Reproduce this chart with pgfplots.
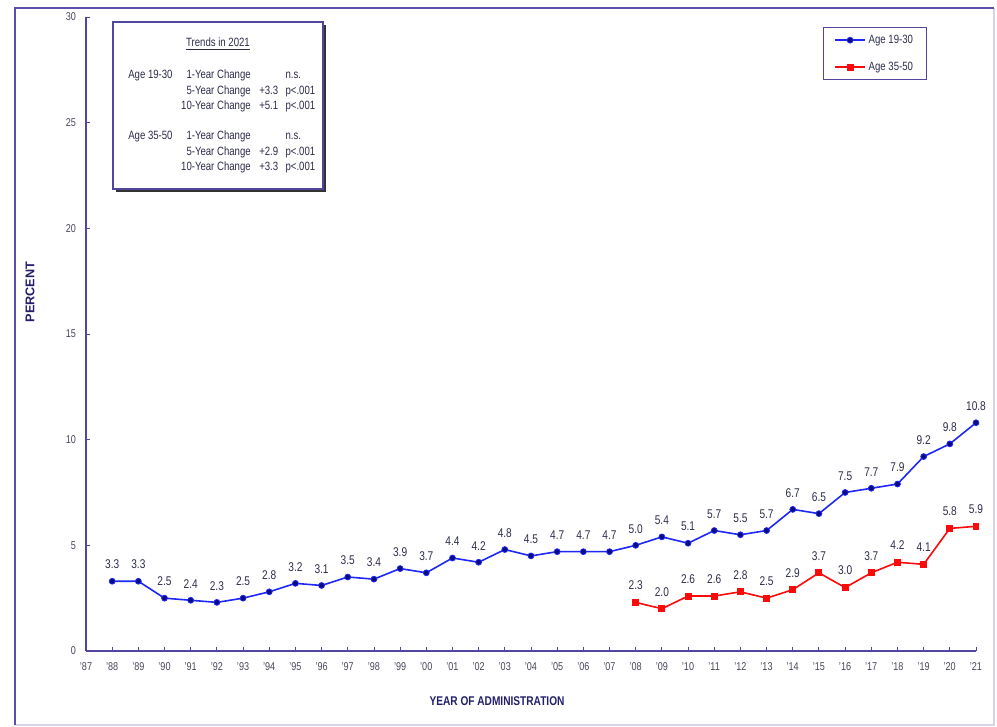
\documentclass[border=0pt]{standalone}
\usepackage{fontspec}
\setmainfont{Liberation Sans}[FakeStretch=0.8]
\newfontfamily\plainsans{Liberation Sans}
\usepackage{pgfplots}
\pgfplotsset{compat=1.18}

\definecolor{axiscol}{RGB}{80,70,160}
\definecolor{framecol}{RGB}{90,80,170}
\definecolor{bluel}{RGB}{30,40,245}
\definecolor{bluem}{RGB}{10,10,130}
\definecolor{redl}{RGB}{250,10,10}
\definecolor{labcol}{RGB}{45,45,75}
\definecolor{tickcol}{RGB}{70,70,90}
\definecolor{titlecol}{RGB}{35,30,110}

\pgfplotstableread{
year val
1988 3.3
1989 3.3
1990 2.5
1991 2.4
1992 2.3
1993 2.5
1994 2.8
1995 3.2
1996 3.1
1997 3.5
1998 3.4
1999 3.9
2000 3.7
2001 4.4
2002 4.2
2003 4.8
2004 4.5
2005 4.7
2006 4.7
2007 4.7
2008 5.0
2009 5.4
2010 5.1
2011 5.7
2012 5.5
2013 5.7
2014 6.7
2015 6.5
2016 7.5
2017 7.7
2018 7.9
2019 9.2
2020 9.8
2021 10.8
}\younger

\pgfplotstableread{
year val
2008 2.3
2009 2.0
2010 2.6
2011 2.6
2012 2.8
2013 2.5
2014 2.9
2015 3.7
2016 3.0
2017 3.7
2018 4.2
2019 4.1
2020 5.8
2021 5.9
}\older

\begin{document}
\begin{tikzpicture}
\useasboundingbox (0,0) rectangle (747.75pt,545.25pt);
% outer frame
\draw[framecol!25, line width=0.8pt] (745.5pt,539.25pt) -- (745.5pt,1.5pt) -- (11.25pt,1.5pt);
\draw[framecol, line width=1.5pt] (11.25pt,1.5pt) -- (11.25pt,539.25pt) -- (745.5pt,539.25pt);

\begin{axis}[
  at={(64.5pt,57pt)}, anchor=south west,
  scale only axis, width=667.5pt, height=475.5pt,
  xmin=1987, xmax=2021, ymin=0, ymax=30,
  axis lines*=left,
  axis line style={axiscol, line width=1pt},
  xtick={1987,...,2021},
  xticklabels={\mbox{'87},\mbox{'88},\mbox{'89},\mbox{'90},\mbox{'91},\mbox{'92},\mbox{'93},\mbox{'94},\mbox{'95},\mbox{'96},\mbox{'97},\mbox{'98},\mbox{'99},\mbox{'00},\mbox{'01},\mbox{'02},\mbox{'03},\mbox{'04},\mbox{'05},\mbox{'06},\mbox{'07},\mbox{'08},\mbox{'09},\mbox{'10},\mbox{'11},\mbox{'12},\mbox{'13},\mbox{'14},\mbox{'15},\mbox{'16},\mbox{'17},\mbox{'18},\mbox{'19},\mbox{'20},\mbox{'21}},
  ytick={0,5,...,30},
  tick align=inside, major tick length=3pt,
  tick style={axiscol, line width=0.6pt},
  ticklabel style={font=\fontsize{8.5}{9}\selectfont, text=tickcol},
  xticklabel style={yshift=-5.5pt},
  yticklabel style={xshift=-4pt},
  /pgf/number format/assume math mode=true,
  clip=false,
  nodes near coords,
  every node near coord/.append style={font=\fontsize{9.5}{10}\selectfont, text=labcol, yshift=5.5pt,
    /pgf/number format/fixed, /pgf/number format/fixed zerofill, /pgf/number format/precision=1},
  legend style={at={(0.828,0.984)}, anchor=north west, draw=axiscol, line width=0.8pt,
    font=\fontsize{9}{10}\selectfont, text=labcol, inner xsep=8pt, inner ysep=3.5pt, row sep=8.5pt,
    cells={anchor=west}},
  legend image code/.code={\draw[line width=1.2pt, mark repeat=2, mark phase=2] plot coordinates {(0cm,0cm) (0.4cm,0cm) (0.8cm,0cm)};},
]
\addplot[bluel, line width=1.2pt, mark=*, mark size=2.2pt,
  mark options={fill=bluem, draw=bluel, line width=0.6pt}] table[x=year, y=val] {\younger};
\addlegendentry{Age 19-30}
\addplot[redl, line width=1.2pt, mark=square*, mark size=2pt,
  mark options={fill=redl, draw=redl}] table[x=year, y=val] {\older};
\addlegendentry{Age 35-50}
\end{axis}

% trends box
\fill[black!80] (86.75pt,401.25pt) rectangle (244.25pt,526.75pt);
\draw[axiscol, fill=white, line width=0.8pt] (84.75pt,403.5pt) rectangle (242.25pt,528.75pt);
\begin{scope}[every node/.style={font=\fontsize{9}{10}\selectfont, text=labcol, inner sep=0pt}]
\node at (163.5pt,512.25pt) {\underline{Trends in 2021}};
\node[anchor=base west] at (96pt,486.25pt) {Age 19-30};
\node[anchor=base east] at (188.25pt,486.25pt) {1-Year Change};
\node[anchor=base west] at (214pt,486.25pt) {n.s.};
\node[anchor=base east] at (188.25pt,474.25pt) {5-Year Change};
\node[anchor=base west] at (194.25pt,474.25pt) {+3.3};
\node[anchor=base west] at (214pt,474.25pt) {p<.001};
\node[anchor=base east] at (188.25pt,463pt) {10-Year Change};
\node[anchor=base west] at (194.25pt,463pt) {+5.1};
\node[anchor=base west] at (214pt,463pt) {p<.001};
\node[anchor=base west] at (96pt,440.5pt) {Age 35-50};
\node[anchor=base east] at (188.25pt,440.5pt) {1-Year Change};
\node[anchor=base west] at (214pt,440.5pt) {n.s.};
\node[anchor=base east] at (188.25pt,428.5pt) {5-Year Change};
\node[anchor=base west] at (194.25pt,428.5pt) {+2.9};
\node[anchor=base west] at (214pt,428.5pt) {p<.001};
\node[anchor=base east] at (188.25pt,417.25pt) {10-Year Change};
\node[anchor=base west] at (194.25pt,417.25pt) {+3.3};
\node[anchor=base west] at (214pt,417.25pt) {p<.001};
\end{scope}

% axis titles
\node[font=\bfseries\fontsize{9.5}{10}\selectfont, text=titlecol] at (372.75pt,19.5pt) {YEAR OF ADMINISTRATION};
\node[rotate=90, font=\plainsans\bfseries\fontsize{9.5}{10}\selectfont, text=titlecol] at (22.5pt,326.25pt) {PERCENT};
\end{tikzpicture}
\end{document}
